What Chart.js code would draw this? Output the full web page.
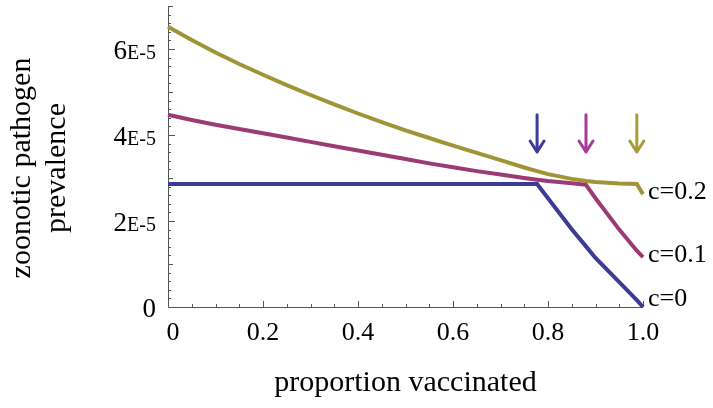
<!DOCTYPE html>
<html>
<head>
<meta charset="utf-8">
<script src="https://cdn.jsdelivr.net/npm/chart.js@4/dist/chart.umd.min.js"></script>
<style>
  html, body { margin: 0; padding: 0; background: #fff; }
  canvas { display: block; }
</style>
</head>
<body>
<canvas id="myChart" width="713" height="408"></canvas>
<script>
// proportion vaccinated
const xValues = [0, 0.05, 0.1, 0.15, 0.2, 0.25, 0.3, 0.35, 0.4, 0.45, 0.5, 0.55, 0.6, 0.65, 0.7, 0.75, 0.777, 0.8, 0.85, 0.88, 0.9, 0.95, 0.987, 1.0];
// prevalence, in units of 1E-5
const prevC0 = [2.86, 2.86, 2.86, 2.86, 2.86, 2.86, 2.86, 2.86, 2.86, 2.86, 2.86, 2.86, 2.86, 2.86, 2.86, 2.86, 2.86, 2.53, 1.81, 1.41, 1.14, 0.58, 0.16, 0];
const prevC01 = [4.47, 4.35, 4.24, 4.14, 4.04, 3.94, 3.84, 3.74, 3.64, 3.54, 3.44, 3.34, 3.25, 3.16, 3.08, 3.00, 2.96, 2.93, 2.88, 2.84, 2.53, 1.80, 1.31, 1.16];
const prevC02 = [6.52, 6.21, 5.92, 5.65, 5.40, 5.16, 4.93, 4.71, 4.50, 4.30, 4.11, 3.93, 3.755, 3.585, 3.415, 3.245, 3.16, 3.09, 2.98, 2.93, 2.905, 2.87, 2.86, 2.62];
const seriesLabels = ['c=0', 'c=0.1', 'c=0.2'];
const seriesColors = ['#3b3b96', '#9c3a74', '#a09436'];
const arrowColors = ['#3c3c9c', '#a63a9e', '#a89c3a'];
// thresholds marked by arrows
const arrowX = [0.777, 0.88, 0.987];
const xTickValues = [0, 0.2, 0.4, 0.6, 0.8, 1.0];
const xTickLabels = ['0', '0.2', '0.4', '0.6', '0.8', '1.0'];
const yTickValues = [0, 2, 4, 6];
const yTickLabels = ['0', '2E-5', '4E-5', '6E-5'];

const serif = '"Liberation Serif", "DejaVu Serif", serif';

const mmaAxes = {
    id: 'mmaAxes',
    beforeDatasetsDraw(chart) {
        const {ctx, scales: {x, y}} = chart;
        const x0 = x.getPixelForValue(0), x1 = x.getPixelForValue(1);
        const y0 = y.getPixelForValue(0), y1 = y.getPixelForValue(7);
        ctx.save();
        ctx.strokeStyle = '#555';
        ctx.lineWidth = 1;
        ctx.beginPath();
        ctx.moveTo(x0 + 0.5, y1);
        ctx.lineTo(x0 + 0.5, y0 + 0.5);
        ctx.lineTo(x1, y0 + 0.5);
        // x ticks every 0.05, longer at labels
        for (let i = 1; i <= 20; i++) {
            const px = Math.round(x.getPixelForValue(i * 0.05)) + 0.5;
            const len = i % 4 === 0 ? 6 : 3;
            ctx.moveTo(px, y0);
            ctx.lineTo(px, y0 - len);
        }
        // y ticks every 0.2E-5
        for (let i = 1; i <= 35; i++) {
            const py = Math.round(y.getPixelForValue(i * 0.2)) + 0.5;
            const len = i % 10 === 0 ? 7 : (i % 5 === 0 ? 5 : 3);
            ctx.moveTo(x0, py);
            ctx.lineTo(x0 + len, py);
        }
        ctx.stroke();
        ctx.restore();
    },
    afterDatasetsDraw(chart) {
        const {ctx, chartArea, scales: {x, y}} = chart;
        ctx.save();
        ctx.fillStyle = '#000';

        // x tick labels
        ctx.font = '26px ' + serif;
        ctx.textAlign = 'center';
        ctx.textBaseline = 'alphabetic';
        xTickValues.forEach((v, i) => {
            ctx.fillText(xTickLabels[i], x.getPixelForValue(v) + (v === 0 ? 5 : 0), 340);
        });

        // y tick labels, mantissa large, exponent small
        ctx.textAlign = 'left';
        yTickValues.forEach((v, i) => {
            const py = y.getPixelForValue(v) + 10;
            const parts = yTickLabels[i].split('E');
            ctx.font = '27px ' + serif;
            const w1 = ctx.measureText(parts[0]).width;
            let w2 = 0;
            if (parts.length > 1) {
                ctx.font = '20px ' + serif;
                w2 = ctx.measureText('E' + parts[1]).width;
            }
            const right = x.getPixelForValue(0) - 12;
            ctx.font = '27px ' + serif;
            ctx.fillText(parts[0], right - w1 - w2, py);
            if (parts.length > 1) {
                ctx.font = '20px ' + serif;
                ctx.fillText('E' + parts[1], right - w2, py);
            }
        });

        // axis titles
        ctx.font = '30px ' + serif;
        ctx.textAlign = 'center';
        ctx.textBaseline = 'middle';
        ctx.fillText('proportion vaccinated', (chartArea.left + chartArea.right) / 2, 383);
        ctx.save();
        ctx.translate(22, 168);
        ctx.rotate(-Math.PI / 2);
        ctx.fillText('zoonotic pathogen', 0, 0);
        ctx.restore();
        ctx.save();
        ctx.translate(57, 168);
        ctx.rotate(-Math.PI / 2);
        ctx.fillText('prevalence', 0, 0);
        ctx.restore();

        // series end labels
        ctx.font = '26px ' + serif;
        ctx.textAlign = 'left';
        ctx.textBaseline = 'alphabetic';
        chart.data.datasets.forEach((ds, i) => {
            const last = ds.data[ds.data.length - 1];
            let py = y.getPixelForValue(last.y) + 5;
            py = Math.min(py, chartArea.bottom - 1);
            ctx.fillText(seriesLabels[i], x.getPixelForValue(last.x) + 5, py);
        });

        // threshold arrows
        ctx.lineWidth = 3;
        ctx.lineCap = 'round';
        ctx.lineJoin = 'round';
        arrowX.forEach((v, i) => {
            const px = x.getPixelForValue(v);
            const top = y.getPixelForValue(4.47);
            const tip = y.getPixelForValue(3.58);
            ctx.strokeStyle = arrowColors[i];
            ctx.beginPath();
            ctx.moveTo(px, top);
            ctx.lineTo(px, tip - 1);
            ctx.moveTo(px - 7, tip - 12);
            ctx.lineTo(px, tip - 1);
            ctx.lineTo(px + 7, tip - 12);
            ctx.stroke();
        });
        ctx.restore();
    }
};

const series = [prevC0, prevC01, prevC02];

new Chart(document.getElementById('myChart'), {
    type: 'line',
    data: {
        datasets: series.map((vals, i) => ({
            label: seriesLabels[i],
            data: xValues.map((xv, j) => ({x: xv, y: vals[j]})),
            borderColor: seriesColors[i],
            borderWidth: 4,
            pointRadius: 0,
            tension: 0,
            clip: 8
        }))
    },
    options: {
        responsive: false,
        animation: false,
        devicePixelRatio: 1,
        layout: {padding: {left: 168, right: 70, top: 6, bottom: 101}},
        scales: {
            x: {type: 'linear', min: 0, max: 1, display: false},
            y: {type: 'linear', min: 0, max: 7, display: false}
        },
        plugins: {legend: {display: false}, tooltip: {enabled: false}}
    },
    plugins: [mmaAxes]
});
</script>
</body>
</html>
